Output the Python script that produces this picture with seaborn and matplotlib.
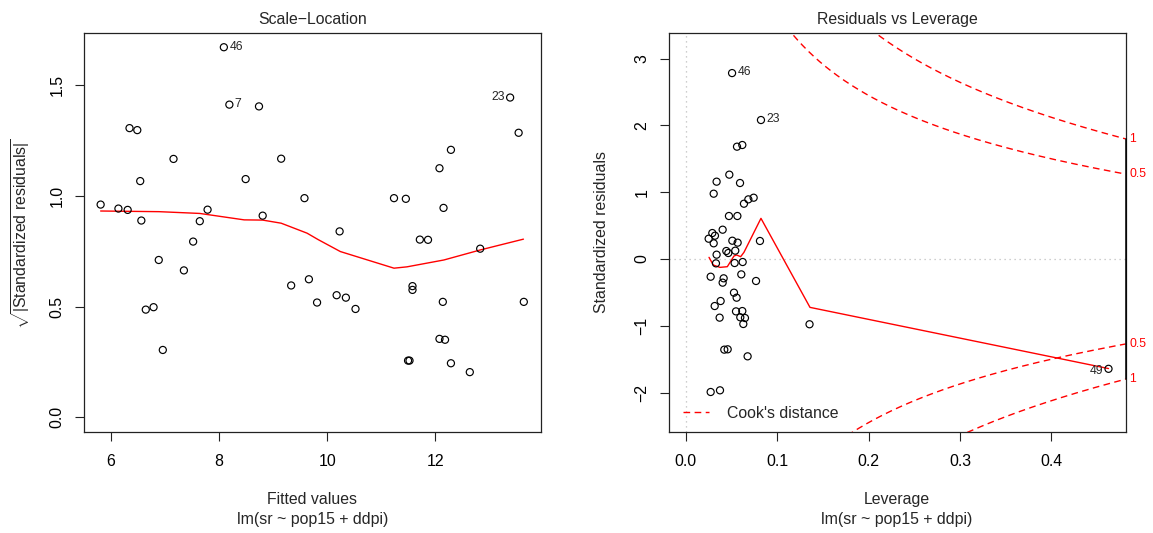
import numpy as np
import pandas as pd
import seaborn as sns
import matplotlib
matplotlib.use("Agg")
import matplotlib.pyplot as plt
import matplotlib.transforms as mtransforms

# ---------------- data ----------------
fitted = [5.808, 6.137, 6.308, 6.342, 6.486, 6.540, 6.561, 6.643, 6.787, 6.883,
          6.958, 7.156, 7.348, 7.519, 7.642, 7.786, 8.087, 8.189, 8.490, 8.737,
          8.805, 9.147, 9.332, 9.578, 9.660, 9.811, 10.173, 10.228, 10.344, 10.522,
          11.234, 11.453, 11.494, 11.521, 11.576, 11.576, 11.712, 11.863, 12.075, 12.075,
          12.137, 12.150, 12.178, 12.287, 12.287, 12.636, 12.828, 13.382, 13.539, 13.635]
sqrt_abs_res = [0.960, 0.942, 0.936, 1.305, 1.296, 1.066, 0.888, 0.486, 0.497, 0.710,
                0.304, 1.166, 0.663, 0.793, 0.885, 0.937, 1.670, 1.411, 1.075, 1.403,
                0.910, 1.167, 0.595, 0.989, 0.623, 0.518, 0.551, 0.839, 0.540, 0.489,
                0.989, 0.986, 0.256, 0.256, 0.592, 0.575, 0.802, 0.801, 1.124, 0.354,
                0.521, 0.945, 0.350, 1.207, 0.244, 0.204, 0.761, 1.443, 1.284, 0.521]
smooth_sl_x = [5.808, 6.889, 7.642, 8.463, 8.805, 9.147, 9.626, 9.831, 10.242,
               11.234, 11.473, 12.157, 12.841, 13.628]
smooth_sl_y = [0.931, 0.928, 0.920, 0.891, 0.890, 0.876, 0.831, 0.802, 0.748,
               0.673, 0.679, 0.710, 0.756, 0.804]
sl_labels = [("46", 8.087, 1.670, "right"), ("7", 8.189, 1.411, "right"),
             ("23", 13.382, 1.443, "left")]

leverage = [0.0824, 0.0562, 0.0620, 0.0478, 0.0339, 0.0595, 0.0307, 0.0638, 0.0686, 0.0744,
            0.0474, 0.0566, 0.0405, 0.0252, 0.0292, 0.0321, 0.0307, 0.0511, 0.0569, 0.0813,
            0.0445, 0.0467, 0.0543, 0.0339, 0.0332, 0.0536, 0.0624, 0.0274, 0.0416, 0.0405,
            0.0609, 0.0770, 0.0529, 0.0558, 0.0383, 0.0318, 0.0551, 0.0620, 0.0372, 0.0598,
            0.0649, 0.0631, 0.0423, 0.0460, 0.0678, 0.0274, 0.0376, 0.0508, 0.1355, 0.4624]
std_res = [2.081, 1.682, 1.707, 1.263, 1.158, 1.138, 0.978, 0.828, 0.893, 0.918,
           0.644, 0.644, 0.439, 0.304, 0.389, 0.349, 0.235, 0.274, 0.245, 0.270,
           0.120, 0.090, 0.125, 0.065, -0.065, -0.060, -0.045, -0.265, -0.289, -0.354,
           -0.230, -0.329, -0.504, -0.579, -0.629, -0.704, -0.784, -0.779, -0.878, -0.873,
           -0.883, -0.973, -1.357, -1.352, -1.457, -1.991, -1.966, 2.784, -0.977, -1.644]
smooth_rl_x = [0.0256, 0.0303, 0.0376, 0.0456, 0.0529, 0.0558, 0.0602, 0.0638,
               0.0824, 0.1360, 0.4624]
smooth_rl_y = [0.025, -0.090, -0.125, -0.115, 0.045, 0.060, 0.035, 0.100,
               0.609, -0.724, -1.640]
rl_labels = [("46", 0.0508, 2.784, "right"), ("23", 0.0824, 2.081, "right"),
             ("49", 0.4624, -1.644, "left")]
cook_levels = [0.5, 1.0]
n_params = 3

# ---------------- style ----------------
sns.set_theme(style="white")
FS = 11.4
SFS = 8.8
DASH = (0, (4.8, 3.2))
plt.rcParams["font.family"] = ["Liberation Sans", "DejaVu Sans"]
plt.rcParams.update({
    "mathtext.fontset": "custom",
    "mathtext.rm": "Liberation Sans",
    "mathtext.it": "Liberation Sans:italic",
    "mathtext.bf": "Liberation Sans:bold",
    "axes.edgecolor": "#222222",
    "axes.linewidth": 0.9,
    "xtick.major.size": 6.7,
    "ytick.major.size": 6.7,
    "xtick.major.width": 0.8,
    "ytick.major.width": 0.8,
    "xtick.color": "#222222",
    "ytick.color": "#222222",
    "xtick.labelcolor": "black",
    "ytick.labelcolor": "black",
    "xtick.bottom": True,
    "ytick.left": True,
    "xtick.labelsize": FS,
    "ytick.labelsize": FS,
})

W, H = 1153, 533
fig = plt.figure(figsize=(W / 100, H / 100), dpi=100)
fig.patch.set_facecolor("white")

ax1 = fig.add_axes([83.6 / W, (H - 432.4) / H, 457.3 / W, 399.8 / H])
ax2 = fig.add_axes([668.5 / W, (H - 432.4) / H, 457.2 / W, 399.8 / H])

for ax in (ax1, ax2):
    ax.set_facecolor("white")
    ax.tick_params(axis="x", pad=9)
    ax.tick_params(axis="y", pad=7)

# ---------------- Scale-Location ----------------
df1 = pd.DataFrame({"fitted": fitted, "sr": sqrt_abs_res})
sns.scatterplot(data=df1, x="fitted", y="sr", ax=ax1, marker="o", s=26,
                facecolors="none", edgecolor="black", linewidth=0.85, zorder=3)
sns.lineplot(x=smooth_sl_x, y=smooth_sl_y, ax=ax1, color="red", lw=1.0,
             sort=False, estimator=None, zorder=2)
for txt, x, y, side in sl_labels:
    dx = 4 if side == "right" else -4
    ax1.annotate(txt, (x, y), xytext=(dx, 0.5), textcoords="offset points",
                 ha="left" if side == "right" else "right", va="center",
                 fontsize=SFS)
ax1.set_xlim(5.493, 13.951)
ax1.set_ylim(-0.068, 1.736)
ax1.set_xticks([6, 8, 10, 12])
ax1.set_yticks([0.0, 0.5, 1.0, 1.5])
ax1.set_title("Scale\u2212Location", fontsize=FS, pad=6)
ax1.set_xlabel("Fitted values", fontsize=FS)
ax1.xaxis.label.set_va("center")
ax1.xaxis.set_label_coords(0.5, -(499.7 - 432.4) / 399.8)
ax1.text(0.5, -(519.4 - 432.4) / 399.8, "lm(sr ~ pop15 + ddpi)", transform=ax1.transAxes,
         ha="center", va="center", fontsize=FS)
ax1.set_ylabel(r"$\sqrt{|\mathrm{Standardized\ residuals}|}$", fontsize=FS)
ax1.yaxis.label.set_va("center")
ax1.yaxis.set_label_coords(-62.6 / 457.3, 0.497)
for lab in ax1.get_yticklabels():
    lab.set_rotation(90)
    lab.set_va("center")

# ---------------- Residuals vs Leverage ----------------
xl2 = (-0.0187, 0.4812)
yl2 = (-2.596, 3.390)
ax2.set_xlim(*xl2)
ax2.set_ylim(*yl2)
ax2.axvline(0, color="#BEBEBE", ls=(0, (1, 3)), lw=0.9, zorder=1)
ax2.axhline(0, color="#BEBEBE", ls=(0, (1, 3)), lw=0.9, zorder=1)

df2 = pd.DataFrame({"lev": leverage, "res": std_res})
sns.scatterplot(data=df2, x="lev", y="res", ax=ax2, marker="o", s=26,
                facecolors="none", edgecolor="black", linewidth=0.85, zorder=3)
sns.lineplot(x=smooth_rl_x, y=smooth_rl_y, ax=ax2, color="red", lw=1.0,
             sort=False, estimator=None, zorder=2)

hh = np.linspace(0.005, xl2[1], 300)
first = True
for c in cook_levels:
    yc = np.sqrt(c * n_params * (1 - hh) / hh)
    for sgn in (1, -1):
        sns.lineplot(x=hh, y=sgn * yc, ax=ax2, color="red", lw=1.0,
                     dashes=False, sort=False, estimator=None,
                     label="Cook's distance" if first else None, zorder=2)
        ax2.lines[-1].set_linestyle(DASH)
        first = False

trans = mtransforms.blended_transform_factory(ax2.transAxes, ax2.transData)
ymax_c = np.sqrt(max(cook_levels) * n_params * (1 - xl2[1]) / xl2[1])
ax2.plot([1, 1], [-ymax_c, ymax_c], transform=trans, color="black", lw=1.1,
         clip_on=False, zorder=5)
for c in cook_levels:
    yv = np.sqrt(c * n_params * (1 - xl2[1]) / xl2[1])
    lab = "1" if c == 1.0 else "0.5"
    for sgn in (1, -1):
        ax2.text(1.008, sgn * yv, lab, transform=trans, color="red",
                 fontsize=SFS, ha="left", va="center", clip_on=False)

for txt, x, y, side in rl_labels:
    dx = 4 if side == "right" else -4
    ax2.annotate(txt, (x, y), xytext=(dx, -1.5 if side == "left" else 0.5),
                 textcoords="offset points",
                 ha="left" if side == "right" else "right", va="center",
                 fontsize=SFS)

leg = ax2.legend(loc="center left", bbox_to_anchor=(14.2 / 457.2, 19.0 / 399.8),
                 frameon=False, fontsize=FS, handlelength=1.67, handletextpad=1.1,
                 borderpad=0, borderaxespad=0)
for lh in leg.get_lines():
    lh.set_linestyle(DASH)

ax2.set_xticks([0.0, 0.1, 0.2, 0.3, 0.4])
ax2.set_yticks([-2, -1, 0, 1, 2, 3])
ax2.set_title("Residuals vs Leverage", fontsize=FS, pad=6)
ax2.set_xlabel("Leverage", fontsize=FS)
ax2.xaxis.label.set_va("center")
ax2.xaxis.set_label_coords(0.5, -(499.7 - 432.4) / 399.8)
ax2.text(0.5, -(519.4 - 432.4) / 399.8, "lm(sr ~ pop15 + ddpi)", transform=ax2.transAxes,
         ha="center", va="center", fontsize=FS)
ax2.set_ylabel("Standardized residuals", fontsize=FS)
ax2.yaxis.label.set_va("center")
ax2.yaxis.set_label_coords(-66.5 / 457.2, 0.5015)
for lab in ax2.get_yticklabels():
    lab.set_rotation(90)
    lab.set_va("center")

fig.savefig("out.png", dpi=100, facecolor="white")
